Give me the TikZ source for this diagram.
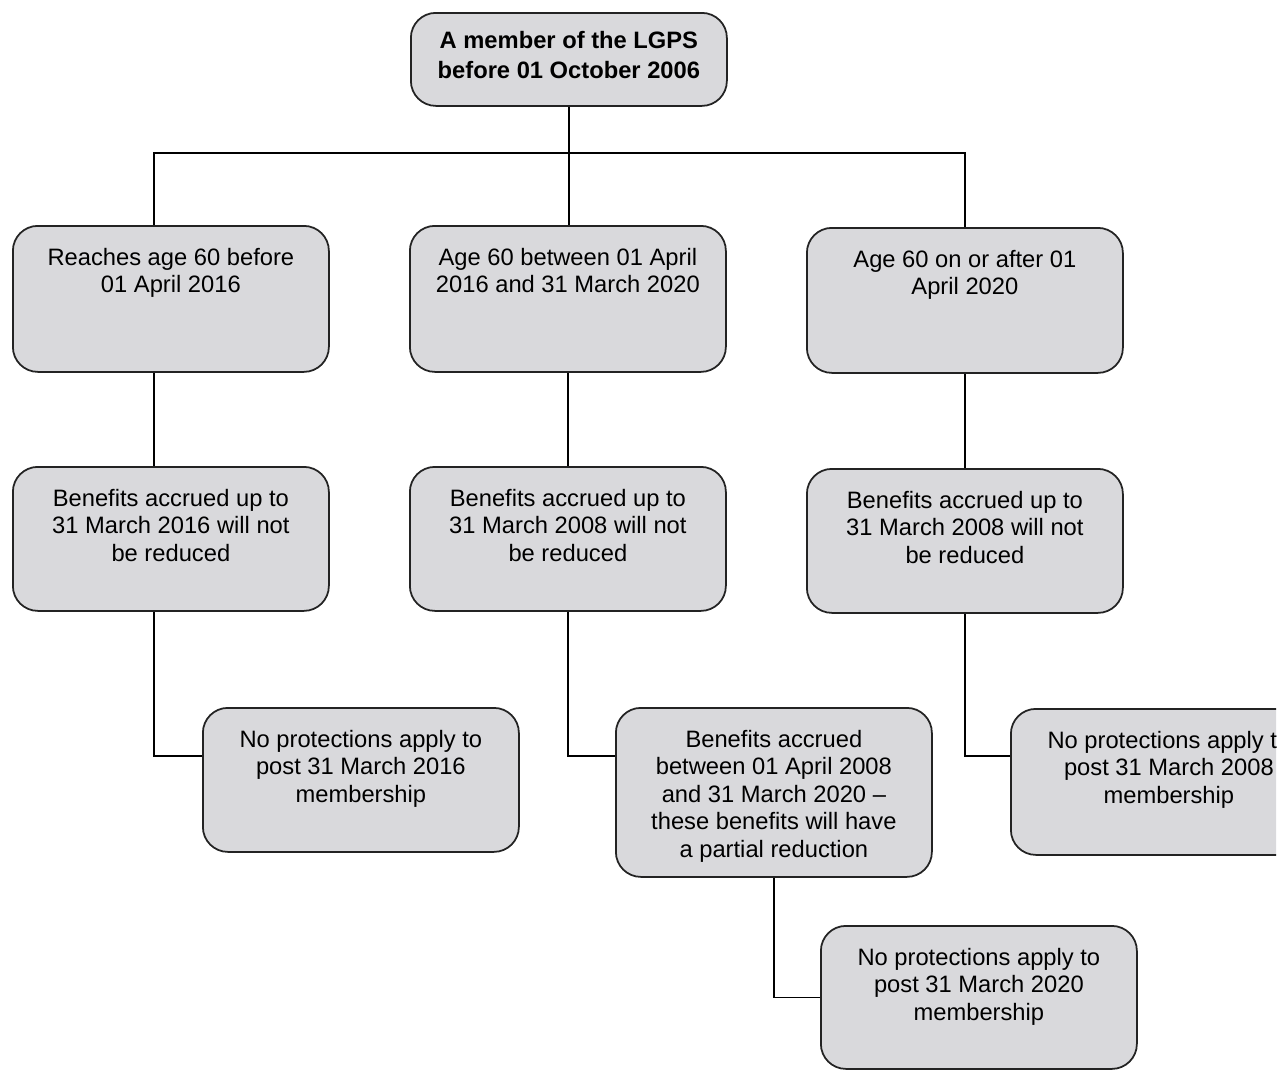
\documentclass[tikz,border=0pt]{standalone}
\usepackage{fontspec}
\setmainfont{Liberation Sans}
\definecolor{boxgray}{RGB}{217,217,220}
\definecolor{boxline}{RGB}{35,35,35}
\newcommand{\boxtext}[3][22.5pt]{\parbox[c][#2][t]{6.32cm}{\centering\fontsize{13.5}{15.6}\selectfont\rule{0pt}{#1}#3}}
\tikzset{
  stage/.style={draw=boxline, fill=boxgray, line width=1pt, rounded corners=0.5cm, inner sep=0pt, anchor=north west},
  link/.style={line width=0.8pt}
}
\begin{document}
\begin{tikzpicture}
    \useasboundingbox (0,0) rectangle (25.76,-21.38);
    \clip (0,0) rectangle (25.52,-21.38);
    \begin{scope}[scale = 1]
      \def\shiftl{-3.4mm}
      \node[stage] (top) at (8.20,-0.24) {\boxtext[20pt]{1.86cm}{\fontsize{13.5}{17.5}\selectfont\bfseries A member of the LGPS\\ before 01 October 2006}};
      \node[stage] (r1a) at (0.24,-4.50) {\boxtext{2.92cm}{Reaches age 60 before\\ 01 April 2016}};
      \node[stage] (r1b) at (8.18,-4.50) {\boxtext{2.92cm}{Age 60 between 01 April\\ 2016 and 31 March 2020}};
      \node[stage] (r1c) at (16.12,-4.54) {\boxtext{2.9cm}{Age 60 on or after 01\\ April 2020}};
      \node[stage] (r2a) at (0.24,-9.32) {\boxtext{2.88cm}{Benefits accrued up to\\ 31 March 2016 will not\\ be reduced}};
      \node[stage] (r2b) at (8.18,-9.32) {\boxtext{2.88cm}{Benefits accrued up to\\ 31 March 2008 will not\\ be reduced}};
      \node[stage] (r2c) at (16.12,-9.36) {\boxtext{2.88cm}{Benefits accrued up to\\ 31 March 2008 will not\\ be reduced}};
      \node[stage] (r3a) at (4.04,-14.14) {\boxtext{2.88cm}{No protections apply to\\ post 31 March 2016\\ membership}};
      \node[stage] (r3b) at (12.30,-14.14) {\boxtext{3.38cm}{Benefits accrued\\ between 01 April 2008\\ and 31 March 2020 --\\ these benefits will have\\ a partial reduction}};
      \node[stage] (r3c) at (20.20,-14.16) {\boxtext{2.92cm}{No protections apply to\\ post 31 March 2008\\ membership}};
      \node[stage] (r4) at (16.40,-18.50) {\boxtext{2.86cm}{No protections apply to\\ post 31 March 2020\\ membership}};
      \coordinate (fork) at (top.south |- 0,-3.06);
      \draw[link] (top.south) -- (fork);
      \draw[link] ([xshift=\shiftl]r1a.north) |- (fork) -| (r1c.north);
      \draw[link] (fork) -- (fork |- r1b.north);
      \draw[link] ([xshift=\shiftl]r1a.south) -- ([xshift=\shiftl]r2a.north);
      \draw[link] (r1b.south) -- (r2b.north);
      \draw[link] (r1c.south) -- (r2c.north);
      \draw[link] ([xshift=\shiftl]r2a.south) |- ([yshift=4.8mm]r3a.west);
      \draw[link] (r2b.south) |- ([yshift=7.3mm]r3b.west);
      \draw[link] (r2c.south) |- ([yshift=5.2mm]r3c.west);
      \draw[link] (r3b.south) |- (r4.west);
    \end{scope}
  \end{tikzpicture}
\end{document}
